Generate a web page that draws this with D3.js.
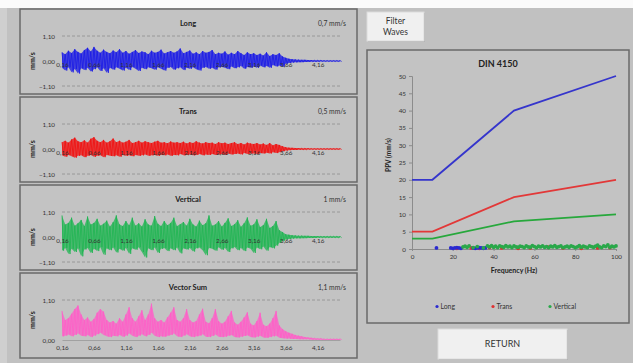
<!DOCTYPE html>
<html><head><meta charset="utf-8">
<script src="https://cdn.jsdelivr.net/npm/d3@7"></script>
<style>
body{margin:0;background:#c0c0c0;}
svg{display:block;font-family:Lato,"Open Sans",sans-serif;}
</style>
</head><body>
<svg id="c" width="633" height="363"></svg>
<script>
// ---------- data ----------
const timeStart = 0.16, timeStep = 0.05;          // sample grid (s)
const timeTicks = [0.16,0.66,1.16,1.66,2.16,2.66,3.16,3.66,4.16];
const ampTicks = [-1.10, 0, 1.10];
const vecTicks = [0, 1.10];

const longHi=[0.38,0.30,0.45,0.35,0.52,0.40,0.33,0.48,0.58,0.42,
0.62,0.45,0.36,0.50,0.40,0.34,0.46,0.38,0.52,0.36,
0.44,0.32,0.40,0.48,0.35,0.42,0.38,0.30,0.45,0.36,
0.40,0.50,0.33,0.38,0.44,0.36,0.42,0.55,0.34,0.40,
0.46,0.32,0.38,0.30,0.44,0.36,0.40,0.48,0.30,0.36,
0.32,0.42,0.28,0.36,0.30,0.44,0.34,0.26,0.38,0.30,
0.34,0.26,0.32,0.24,0.38,0.22,0.30,0.26,0.34,0.20,
0.14,0.10,0.08,0.07,0.06,0.05,0.05,0.04,0.04,0.03,
0.03,0.03,0.02,0.02,0.02,0.02,0.02,0.02];
const longLo=[-0.30,-0.42,-0.28,-0.50,-0.35,-0.55,-0.32,-0.40,-0.30,-0.46,
-0.36,-0.28,-0.44,-0.32,-0.52,-0.30,-0.38,-0.28,-0.34,-0.42,
-0.30,-0.40,-0.26,-0.34,-0.44,-0.30,-0.36,-0.28,-0.32,-0.38,
-0.28,-0.34,-0.42,-0.30,-0.26,-0.38,-0.32,-0.28,-0.40,-0.30,
-0.34,-0.28,-0.36,-0.42,-0.30,-0.26,-0.34,-0.30,-0.38,-0.28,
-0.26,-0.30,-0.36,-0.24,-0.32,-0.28,-0.22,-0.34,-0.26,-0.30,
-0.24,-0.30,-0.20,-0.28,-0.22,-0.30,-0.18,-0.24,-0.20,-0.26,
-0.12,-0.09,-0.07,-0.06,-0.05,-0.05,-0.04,-0.04,-0.03,-0.03,
-0.03,-0.02,-0.02,-0.02,-0.02,-0.02,-0.02,-0.02];

const transHi=[0.30,0.36,0.28,0.42,0.50,0.34,0.30,0.38,0.28,0.45,
0.52,0.36,0.30,0.40,0.28,0.34,0.46,0.30,0.36,0.28,
0.32,0.40,0.26,0.30,0.36,0.28,0.34,0.30,0.26,0.32,
0.36,0.28,0.30,0.25,0.33,0.28,0.30,0.26,0.32,0.24,
0.30,0.26,0.34,0.28,0.24,0.30,0.26,0.28,0.22,0.30,
0.25,0.28,0.22,0.26,0.30,0.22,0.26,0.20,0.28,0.24,
0.22,0.26,0.20,0.24,0.18,0.26,0.16,0.22,0.18,0.12,
0.08,0.06,0.05,0.04,0.04,0.03,0.03,0.03,0.02,0.02,
0.02,0.02,0.02,0.02,0.02,0.02,0.02,0.02];
const transLo=[-0.28,-0.34,-0.26,-0.32,-0.38,-0.30,-0.28,-0.36,-0.30,-0.26,
-0.34,-0.30,-0.28,-0.36,-0.26,-0.30,-0.32,-0.28,-0.34,-0.26,
-0.30,-0.28,-0.32,-0.26,-0.30,-0.28,-0.24,-0.30,-0.28,-0.26,
-0.30,-0.26,-0.28,-0.24,-0.30,-0.26,-0.28,-0.22,-0.28,-0.26,
-0.24,-0.28,-0.26,-0.22,-0.28,-0.24,-0.26,-0.22,-0.26,-0.24,
-0.22,-0.26,-0.20,-0.24,-0.22,-0.20,-0.24,-0.18,-0.22,-0.20,
-0.20,-0.22,-0.18,-0.20,-0.16,-0.20,-0.14,-0.18,-0.14,-0.10,
-0.07,-0.05,-0.04,-0.04,-0.03,-0.03,-0.03,-0.02,-0.02,-0.02,
-0.02,-0.02,-0.02,-0.02,-0.02,-0.02,-0.02,-0.02];

const vertHi=[0.95,0.55,0.62,0.85,0.50,0.60,0.75,0.48,0.90,0.55,
0.62,0.80,0.50,0.58,0.72,0.46,0.65,0.95,0.55,0.48,
0.70,0.52,0.85,0.50,0.60,0.46,0.78,0.55,0.50,0.92,
0.58,0.48,0.70,0.52,0.62,0.85,0.48,0.56,0.66,0.50,
0.80,0.55,0.46,0.72,0.52,0.60,0.95,0.50,0.55,0.70,
0.46,0.62,0.82,0.48,0.56,0.74,0.45,0.60,0.86,0.50,
0.55,0.78,0.44,0.52,0.80,0.40,0.48,0.70,0.30,0.22,
0.12,0.10,0.08,0.07,0.06,0.06,0.05,0.05,0.04,0.04,
0.04,0.03,0.03,0.03,0.03,0.03,0.03,0.03];
const vertLo=[-0.60,-0.48,-0.75,-0.52,-0.66,-0.50,-0.85,-0.55,-0.48,-0.70,
-0.52,-0.62,-0.45,-0.78,-0.50,-0.58,-0.46,-0.68,-0.52,-0.60,
-0.48,-0.74,-0.50,-0.56,-0.45,-0.66,-0.90,-0.50,-0.58,-0.46,
-0.70,-0.52,-0.48,-0.62,-0.50,-0.58,-0.46,-0.72,-0.50,-0.55,
-0.48,-0.64,-0.50,-0.46,-0.58,-0.80,-0.48,-0.52,-0.60,-0.45,
-0.56,-0.48,-0.66,-0.50,-0.44,-0.58,-0.48,-0.62,-0.46,-0.52,
-0.70,-0.46,-0.54,-0.42,-0.60,-0.44,-0.50,-0.38,-0.26,-0.18,
-0.11,-0.09,-0.07,-0.06,-0.06,-0.05,-0.05,-0.04,-0.04,-0.04,
-0.03,-0.03,-0.03,-0.03,-0.03,-0.03,-0.03,-0.03];

const vecHi=[0.80,0.55,0.60,0.72,0.85,0.95,0.70,0.55,0.62,0.50,
0.58,0.75,0.85,0.78,0.55,0.48,0.52,0.45,0.60,0.50,
0.70,0.90,0.60,0.50,0.65,0.82,0.55,0.70,1.00,0.60,
0.50,0.55,0.48,0.62,0.75,0.90,0.55,0.50,0.60,0.85,
0.55,0.48,0.52,0.70,0.86,0.50,0.46,0.60,0.85,0.52,
0.45,0.50,0.65,0.80,0.48,0.42,0.50,0.62,0.76,0.45,
0.40,0.52,0.75,0.42,0.38,0.45,0.60,0.80,0.40,0.30,
0.24,0.20,0.17,0.14,0.12,0.10,0.08,0.07,0.06,0.05,
0.04,0.04,0.03,0.03,0.03,0.03,0.03,0.03];
const vecLo=[0.10,0.12,0.15,0.10,0.14,0.18,0.12,0.10,0.14,0.08,
0.12,0.16,0.20,0.14,0.10,0.08,0.12,0.10,0.14,0.09,
0.12,0.18,0.12,0.08,0.12,0.16,0.10,0.14,0.20,0.12,
0.08,0.10,0.09,0.12,0.14,0.18,0.10,0.08,0.12,0.16,
0.10,0.08,0.10,0.12,0.16,0.09,0.08,0.11,0.15,0.09,
0.08,0.09,0.12,0.14,0.08,0.07,0.09,0.11,0.13,0.08,
0.07,0.09,0.12,0.07,0.06,0.08,0.10,0.12,0.06,0.05,
0.04,0.04,0.03,0.03,0.02,0.02,0.02,0.02,0.01,0.01,
0.01,0.01,0.01,0.01,0.01,0.01,0.01,0.01];

const panelTitles = ["Long","Trans","Vertical","Vector Sum"];
const panelPeaks = ["0,7 mm/s","0,5 mm/s","1 mm/s","1,1 mm/s"];

// DIN 4150 chart
const dinXTicks=[0,20,40,60,80,100];
const dinYTicks=[0,5,10,15,20,25,30,35,40,45,50];
const dinFreq=[0,10,50,100];
const dinLine1=[20,20,40,50];
const dinLine2=[5,5,15,20];
const dinLine3=[3,3,8,10];
const longFreq=[12,19,20,21,22,23,24,30,31,32,33,34,35,36];
const longPPV=[0.3,0.3,0.2,0.3,0.4,0.3,0.2,0.3,0.2,0.3,0.4,0.3,0.2,0.3];
const transFreq=[22,29,33,38,44,52,58,67,74,83,91,97];
const transPPV=[0.2,0.3,0.2,0.4,0.3,0.2,0.3,0.5,0.3,0.2,0.3,0.4];
const vertFreq=[25,26,27,28,30,32,35,37,38,39,40,41,42,43,44,45,46,47,48,49,50,51,52,53,54,55,56,57,58,59,60,61,62,63,64,65,66,67,68,69,70,71,72,73,74,75,76,77,78,79,80,81,82,83,84,85,86,87,88,89,90,91,92,93,94,95,96,97,98,99,100];
const vertPPV=[0.6,0.8,0.5,0.9,0.4,0.7,0.3,0.9,0.6,1.0,
0.5,0.8,0.4,0.9,0.7,0.5,1.0,0.6,0.8,0.4,
0.9,0.6,0.5,0.8,0.7,0.4,0.9,0.6,0.5,1.0,
0.7,0.4,0.8,0.6,0.9,0.5,0.7,0.4,0.8,0.6,
1.0,0.5,0.7,0.9,0.4,0.6,0.8,0.5,0.9,0.7,
0.4,0.6,1.0,0.5,0.8,0.6,0.4,0.9,0.7,0.5,
0.8,1.1,0.6,0.4,0.9,0.7,1.2,0.5,0.8,0.6,0.9];
const legendNames=["Long","Trans","Vertical"];

// ---------- drawing ----------
const svg = d3.select("#c");
const loc = d3.formatLocale({decimal:",",thousands:".",grouping:[3],currency:["","€"]});
const fmt2 = loc.format(".2f");
const BORDER="#6a6a6a", TXT="#333";

// background
svg.append("rect").attr("width",633).attr("height",363).attr("fill","#c1c1c1");
svg.append("rect").attr("width",633).attr("height",8).attr("fill","#fbfbfb");
svg.append("rect").attr("y",8).attr("width",7).attr("height",355).attr("fill","#cfcfcf");

const series = [
  {hi:longHi, lo:longLo, color:"#1a1ae6", two:true},
  {hi:transHi, lo:transLo, color:"#f01010", two:true},
  {hi:vertHi, lo:vertLo, color:"#1fb552", two:true},
  {hi:vecHi, lo:vecLo, color:"#ff5ec8", two:false}
];
const tops=[9,97,185,273];
const x = d3.scaleLinear().domain([timeStart, timeStart+timeStep*87]).range([62,340]);

series.forEach((s,k)=>{
  const top=tops[k];
  const g=svg.append("g");
  g.append("rect").attr("x",20).attr("y",top).attr("width",337).attr("height",85)
    .attr("fill","#c3c3c3").attr("stroke",BORDER).attr("stroke-width",1.5);
  g.append("text").attr("x",188).attr("y",top+16.5).attr("text-anchor","middle")
    .attr("font-size",7.5).attr("font-weight","bold").attr("fill","#222").text(panelTitles[k]);
  g.append("text").attr("x",346).attr("y",top+16.5).attr("text-anchor","end")
    .attr("font-size",6.8).attr("fill",TXT).text(panelPeaks[k]);
  const y = d3.scaleLinear().domain(s.two?[-1.1,1.1]:[0,1.1]).range(s.two?[top+77,top+27]:[top+67,top+27]);
  const yt = s.two?ampTicks:vecTicks;
  // dashed gridlines
  g.selectAll(".grid").data(yt.filter(v=>v!==0)).join("line")
    .attr("x1",62).attr("x2",340).attr("y1",d=>y(d)).attr("y2",d=>y(d))
    .attr("stroke","#8e8e8e").attr("stroke-width",0.8).attr("stroke-dasharray","3,2");
  // y axis labels
  const ya = g.append("g").attr("transform","translate(62,0)")
    .call(d3.axisLeft(y).tickValues(yt).tickFormat(fmt2).tickSize(0).tickPadding(7));
  ya.select(".domain").remove();
  ya.selectAll("text").attr("font-size",6.3).attr("fill",TXT).attr("font-family","Lato,sans-serif");
  g.append("text").attr("transform",`translate(35,${s.two?y(0):(y(0)+y(1.1))/2}) rotate(-90)`)
    .attr("text-anchor","middle").attr("font-size",7).attr("font-weight","bold").attr("fill","#222").text("mm/s");
  // waveform envelope
  const t = i => timeStart + i*timeStep;
  const wave = g.append("g");
  const area = d3.area().x((d,i)=>x(t(i))).y0((d,i)=>y(s.lo[i])).y1(d=>y(d));
  wave.append("path").datum(s.hi).attr("d",area).attr("fill",s.color).attr("opacity",0.75);
  const pts=[];
  s.hi.forEach((h,i)=>{ pts.push([t(i),h]); pts.push([t(i)+timeStep/2, s.lo[i]]); });
  wave.append("path").datum(pts).attr("d",d3.line().x(d=>x(d[0])).y(d=>y(d[1])))
    .attr("fill","none").attr("stroke",s.color).attr("stroke-width",0.8);
  // x axis (labels on top of the trace)
  const xa = g.append("g").attr("transform",`translate(0,${y(0)})`)
    .call(d3.axisBottom(x).tickValues(timeTicks).tickFormat(fmt2).tickSize(0).tickPadding(s.two?2:6));
  xa.select(".domain").attr("stroke","#8a8a8a").attr("stroke-width",0.6).attr("opacity",s.two?0:1);
  xa.selectAll("text").attr("font-size",6.3).attr("fill",TXT).attr("font-family","Lato,sans-serif");
});

// buttons
const btn=(x0,y0,w,h,lines,fs)=>{
  svg.append("rect").attr("x",x0+1).attr("y",y0+1).attr("width",w).attr("height",h).attr("fill","#a9a9a9");
  svg.append("rect").attr("x",x0).attr("y",y0).attr("width",w).attr("height",h).attr("fill","#f0f0f0")
    .attr("stroke","#dcdcdc").attr("stroke-width",1);
  lines.forEach((l,i)=>svg.append("text").attr("x",x0+w/2).attr("y",y0+h/2+fs*0.35+(i-(lines.length-1)/2)*fs*1.25)
    .attr("text-anchor","middle").attr("font-size",fs).attr("fill","#333").text(l));
};
btn(367,12,57,29,["Filter","Waves"],8.5);
btn(438,329,129,30,["RETURN"],9);

// DIN 4150 panel
const dg=svg.append("g");
dg.append("rect").attr("x",367).attr("y",50).attr("width",262).attr("height",273)
  .attr("fill","#c3c3c3").attr("stroke",BORDER).attr("stroke-width",1.5);
dg.append("text").attr("x",498).attr("y",67).attr("text-anchor","middle").attr("font-size",9)
  .attr("font-weight","bold").attr("fill","#222").text("DIN 4150");
const xs=d3.scaleLinear().domain([0,100]).range([412,616]);
const ys=d3.scaleLinear().domain([0,50]).range([249,76]);
const ax=dg.append("g").attr("transform","translate(0,249)")
  .call(d3.axisBottom(xs).tickValues(dinXTicks).tickSize(2).tickPadding(4));
const ay=dg.append("g").attr("transform","translate(412,0)")
  .call(d3.axisLeft(ys).tickValues(dinYTicks).tickSize(3).tickPadding(3));
[ax,ay].forEach(a=>{
  a.selectAll("path,line").attr("stroke","#8c8c8c");
  a.selectAll("text").attr("font-size",6.3).attr("fill",TXT).attr("font-family","Lato,sans-serif");
});
dg.append("text").attr("x",514).attr("y",273).attr("text-anchor","middle").attr("font-size",7)
  .attr("font-weight","bold").attr("fill","#222").text("Frequency (Hz)");
dg.append("text").attr("transform","translate(391,155) rotate(-90)").attr("text-anchor","middle")
  .attr("font-size",6.5).attr("font-weight","bold").attr("fill","#222").text("PPV (mm/s)");
const lineGen=d3.line().x(d=>xs(d[0])).y(d=>ys(d[1]));
[[dinLine1,"#3535cc"],[dinLine2,"#e23838"],[dinLine3,"#27a83c"]].forEach(([vals,c])=>{
  dg.append("path").datum(d3.zip(dinFreq,vals)).attr("d",lineGen).attr("fill","none")
    .attr("stroke",c).attr("stroke-width",1.8);
});
const scat=[[transFreq,transPPV,"#e03030"],[longFreq,longPPV,"#2a2ad0"],[vertFreq,vertPPV,"#2aa84a"]];
scat.forEach(([f,v,c])=>{
  dg.selectAll(null).data(d3.zip(f,v)).join("circle").attr("cx",d=>xs(d[0])).attr("cy",d=>ys(d[1]))
    .attr("r",1.9).attr("fill",c);
});
// legend
const legX=[437,493,550], legC=["#2a2ad0","#e03030","#2aa84a"];
legendNames.forEach((n,i)=>{
  dg.append("circle").attr("cx",legX[i]).attr("cy",306.5).attr("r",1.6).attr("fill",legC[i]);
  dg.append("text").attr("x",legX[i]+3.5).attr("y",309).attr("font-size",6.8).attr("fill",TXT).text(n);
});
</script>
</body></html>
